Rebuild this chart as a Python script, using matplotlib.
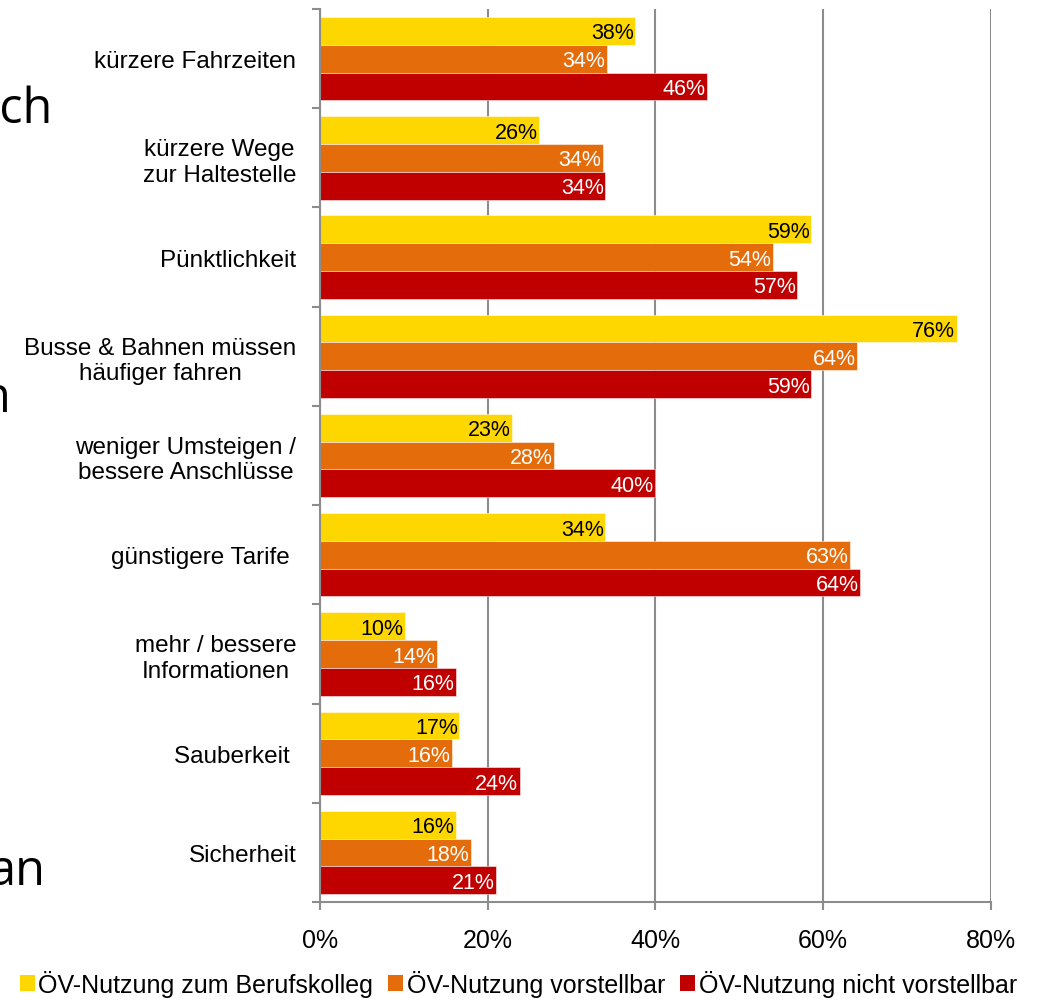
import matplotlib
matplotlib.use("Agg")
from matplotlib import pyplot as plt
from matplotlib.patches import Patch

plt.rcParams['font.family'] = ['Liberation Sans', 'DejaVu Sans']

# Data
categories = ["kürzere Fahrzeiten", "kürzere Wege\nzur Haltestelle", "Pünktlichkeit",
              "Busse & Bahnen müssen\nhäufiger fahren", "weniger Umsteigen /\nbessere Anschlüsse",
              "günstigere Tarife ", "mehr / bessere\nInformationen", "Sauberkeit ", "Sicherheit"]
series_names = ["ÖV-Nutzung zum Berufskolleg", "ÖV-Nutzung vorstellbar", "ÖV-Nutzung nicht vorstellbar"]
berufskolleg = [37.6, 26.1, 58.6, 75.9, 22.9, 34.0, 10.1, 16.6, 16.2]
vorstellbar = [34.2, 33.7, 54.0, 64.0, 27.9, 63.2, 13.9, 15.7, 18.0]
nicht_vorstellbar = [46.1, 34.0, 56.9, 58.6, 40.0, 64.4, 16.2, 23.8, 21.0]
x_ticks = [0, 20, 40, 60, 80]

colors = ["#FFD700", "#E46C0A", "#C00000"]
label_colors = ["black", "white", "white"]

fig = plt.figure(figsize=(10.37, 10.03), dpi=100)
ax = fig.add_axes([0.3086, 0.0997, 0.6470, 0.8903])

bar_h = 0.28
offsets = [-0.28, 0.0, 0.28]
ypos = list(range(len(categories)))

for values, off, col, lcol in zip([berufskolleg, vorstellbar, nicht_vorstellbar], offsets, colors, label_colors):
    ys = [y + off for y in ypos]
    ax.barh(ys, values, height=bar_h, color=col, edgecolor=(1, 1, 1, 0.6), linewidth=0.6, zorder=3)
    for v, y in zip(values, ys):
        ax.annotate(f"{round(v):d}%", xy=(v, y), xytext=(-1, -1.5), textcoords="offset points",
                    ha="right", va="center", fontsize=15.5, color=lcol, zorder=4)

ax.set_xlim(0, 80)
ax.set_ylim(len(categories) - 0.5, -0.5)

ax.set_xticks(x_ticks)
ax.set_xticklabels([f"{t}%" for t in x_ticks], fontsize=18)
ax.tick_params(axis="x", direction="out", length=6, width=1.5, color="#8c8c8c", pad=13)

ax.set_yticks(ypos)
ax.set_yticklabels(categories, fontsize=17.5, multialignment="center")
ax.tick_params(axis="y", which="major", length=0, pad=17)
ax.set_yticks([y - 0.5 for y in range(len(categories) + 1)], minor=True)
ax.tick_params(axis="y", which="minor", direction="out", length=6, width=1.5, color="#8c8c8c")

ax.grid(axis="x", color="#8c8c8c", linewidth=1.5, zorder=0)
ax.set_axisbelow(True)
for s in ["top", "right"]:
    ax.spines[s].set_visible(False)
for s in ["left", "bottom"]:
    ax.spines[s].set_color("#8c8c8c")
    ax.spines[s].set_linewidth(1.5)
    ax.spines[s].set_zorder(5)

# Legend
handles = [Patch(facecolor=c) for c in colors]
fig.legend(handles, series_names, loc="lower center", bbox_to_anchor=(0.5, -0.017), ncol=3,
           frameon=False, fontsize=18, handlelength=0.6, handleheight=0.6,
           handletextpad=0.15, columnspacing=0.6)

# Text fragments from the slide behind the chart
fig.text(53 / 1037, 1 - 123 / 1003, "ich", fontsize=35, family="Open Sans", ha="right", va="baseline")
fig.text(11 / 1037, 1 - 412 / 1003, "n", fontsize=35, family="Open Sans", ha="right", va="baseline")
fig.text(46 / 1037, 1 - 885 / 1003, "an", fontsize=35, family="Open Sans", ha="right", va="baseline")

fig.savefig("out.png", dpi=100)
